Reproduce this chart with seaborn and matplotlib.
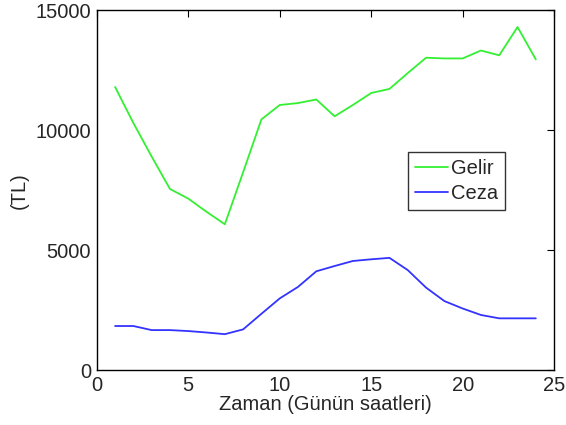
import pandas as pd
import matplotlib
matplotlib.use("Agg")
import matplotlib.pyplot as plt
import seaborn as sns

# ------------------ Data ------------------
saat = list(range(1, 25))
gelir = [11800, 10300, 8900, 7550, 7150, 6600, 6080, 8250, 10450, 11050,
         11130, 11280, 10580, 11050, 11550, 11720, 12380, 13020, 12990, 12990,
         13320, 13120, 14300, 12950]
ceza = [1840, 1840, 1670, 1670, 1630, 1570, 1500, 1700, 2350, 2990,
        3470, 4120, 4340, 4550, 4620, 4680, 4170, 3440, 2880, 2570,
        2300, 2160, 2160, 2160]
seriler = ["Gelir", "Ceza"]
renkler = ["#33f033", "#3333ff"]

df = pd.DataFrame({
    "saat": saat * 2,
    "deger": gelir + ceza,
    "seri": ["Gelir"] * len(saat) + ["Ceza"] * len(saat),
})

# ------------------ Style ------------------
sns.set_style("white")
plt.rcParams["font.family"] = ["Liberation Sans", "DejaVu Sans"]
plt.rcParams["xtick.direction"] = "in"
plt.rcParams["ytick.direction"] = "in"
plt.rcParams["xtick.top"] = True
plt.rcParams["ytick.right"] = True

fig = plt.figure(figsize=(5.66, 4.25), dpi=100)
ax = fig.add_axes([0.171, 0.129, 0.808, 0.847])

sns.lineplot(data=df, x="saat", y="deger", hue="seri", hue_order=seriler,
             palette=renkler, linewidth=1.3, ax=ax)

ax.set_xlim(0, 25)
ax.set_ylim(0, 15000)
ax.set_xticks([0, 5, 10, 15, 20, 25])
ax.set_yticks([0, 5000, 10000, 15000])
ax.tick_params(axis="both", labelsize=14.5, length=5, width=0.8, color="black",
               top=True, right=True, pad=4)
for s in ax.spines.values():
    s.set_color("black")
    s.set_linewidth(1.0)

ax.set_xlabel("Zaman (Günün saatleri)", fontsize=14.5, labelpad=0)
ax.set_ylabel("(TL)", fontsize=14.5, labelpad=5)

leg = ax.legend(loc="upper left", bbox_to_anchor=(0.68, 0.606), borderaxespad=0,
                fontsize=14.5, frameon=True, fancybox=False, handlelength=1.65,
                handletextpad=0.15, borderpad=0.35, labelspacing=0.3)
leg.get_frame().set_edgecolor("black")
leg.get_frame().set_linewidth(1.0)

fig.savefig("out.png", dpi=100)
